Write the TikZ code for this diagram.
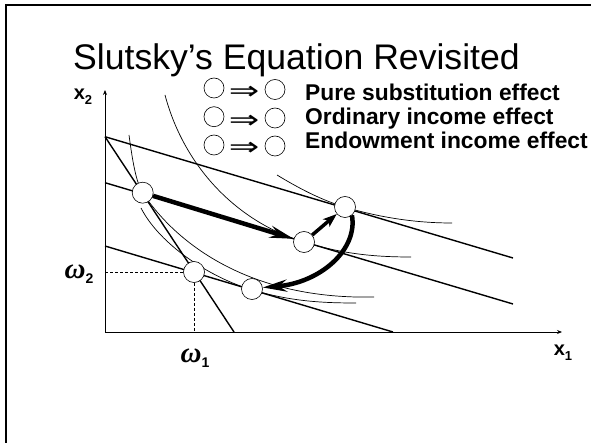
\documentclass[tikz,border=0pt]{standalone}
\usepackage{fontspec}
\setmainfont{Liberation Sans}
\newfontfamily\omegafont{Liberation Serif}
\newfontfamily\dejavu{DejaVu Sans}
\usetikzlibrary{arrows.meta}
\begin{document}
\begin{tikzpicture}[x=1pt,y=-1pt,
  pt/.style={circle,draw,fill=white,minimum size=21pt,inner sep=0pt,line width=0.6pt},
  lg/.style={circle,draw,minimum size=20pt,inner sep=0pt,line width=0.6pt},
  bl/.style={line width=1.4pt},
  ic/.style={line width=0.7pt},
  ax/.style={line width=0.8pt,-{Stealth[length=5pt,width=4pt]}},
  thk/.style={line width=4.5pt,-{Stealth[length=24pt,width=12pt,inset=8pt]}},
  mid/.style={line width=3.5pt,-{Stealth[length=14pt,width=10pt,inset=4pt]}},
  lbl/.style={font=\bfseries\fontsize{22.8}{24}\selectfont,anchor=base west,inner sep=0pt},
  imp/.style={font=\dejavu\fontsize{28}{28}\selectfont,inner sep=0pt},
  omg/.style={font=\omegafont\bfseries\itshape\fontsize{29}{29}\selectfont,inner sep=0pt},
  axl/.style={font=\bfseries\fontsize{20}{20}\selectfont,inner sep=0pt}]
\useasboundingbox (0,0) rectangle (591,443);
% frame
\draw[line width=2pt] (6,460) -- (6,5) -- (610,5);
% title
\node[anchor=base west,inner sep=0pt,font=\fontsize{35.6}{40}\selectfont] (title) at (73,69.3) {Slutsky’s Equation Revisited};
% legend
\node[lg] (l1a) at (214,88) {};
\node[imp] (l1r) at (244,92.5) {\scalebox{1.3}[0.9]{⇒}};
\node[lg] (l1b) at (275,89.5) {};
\node[lbl] (t1) at (305,100.7) {Pure substitution effect};
\node[lg] (l2a) at (214,116.7) {};
\node[imp] (l2r) at (244,122) {\scalebox{1.3}[0.9]{⇒}};
\node[lg] (l2b) at (275,118) {};
\node[lbl] (t2) at (305,125) {Ordinary income effect};
\node[lg] (l3a) at (214,145) {};
\node[imp] (l3r) at (244,149) {\scalebox{1.3}[0.9]{⇒}};
\node[lg] (l3b) at (275,146) {};
\node[lbl] (t3) at (305,149) {Endowment income effect};
% axes
\coordinate (O) at (105,332);
\coordinate (Ytop) at (105,90);
\coordinate (Xend) at (562,332);
\draw[ax] (O) -- (Ytop);
\draw[ax] (O) -- (Xend);
\node[axl] (lx2) at (83,97) {x\raisebox{-5pt}{\fontsize{13}{13}\selectfont 2}};
\node[axl] (lx1) at (563,353) {x\raisebox{-5pt}{\fontsize{13}{13}\selectfont 1}};
\node[omg] (lw2) at (79,274) {ω\raisebox{-5pt}{\normalfont\bfseries\fontsize{14}{14}\selectfont 2}};
\node[omg] (lw1) at (195,358) {ω\raisebox{-5pt}{\normalfont\bfseries\fontsize{14}{14}\selectfont 1}};
% dashed endowment guides
\coordinate (wy) at (105,272);
\coordinate (wx) at (194,332);
\coordinate (E) at (194,272);
\draw[dashed,line width=0.7pt,dash pattern=on 3pt off 2pt] (wy) -- (E) -- (wx);
% budget lines
\coordinate (A) at (105,136.7);
\coordinate (Asteep) at (234,332);
\coordinate (Atop) at (513,258);
\coordinate (Bm) at (105,182.7);
\coordinate (Bmend) at (513,304);
\coordinate (Cb) at (105,246);
\coordinate (Cbend) at (393,332);
\draw[bl] (A) -- (Asteep);
\draw[bl] (A) -- (Atop);
\draw[bl] (Bm) -- (Bmend);
\draw[bl] (Cb) -- (Cbend);
% indifference curves
\draw[ic] (277,175) .. controls (305,192) and (325,201) .. (345,207.2) .. controls (380,217.4) and (415,223) .. (452,223);
\draw[ic] (165,95) .. controls (185,170) and (240,223) .. (304,242) .. controls (340,253) and (370,257) .. (411,257);
\draw[ic] (129,135) .. controls (133,165) and (136.7,183.6) .. (142.7,192.7) .. controls (170,235) and (240,300) .. (374,297);
\draw[ic] (141,208) .. controls (160,245) and (210,277.4) .. (252,289.9) .. controls (290,301) and (320,303) .. (356,303);
% bundles
\node[pt] (p1) at (142.7,192.7) {};
\node[pt] (p2) at (304,242) {};
\node[pt] (p3) at (345,207) {};
\node[pt] (pe) at (194,272) {};
\node[pt] (p4) at (252,289) {};
% effect arrows
\draw[thk] (p1) -- (p2);
\draw[mid] (p2) -- (p3);
\draw[thk] (p3.-50) .. controls (358,250) and (320,283) .. (p4.8);
\end{tikzpicture}
\end{document}
